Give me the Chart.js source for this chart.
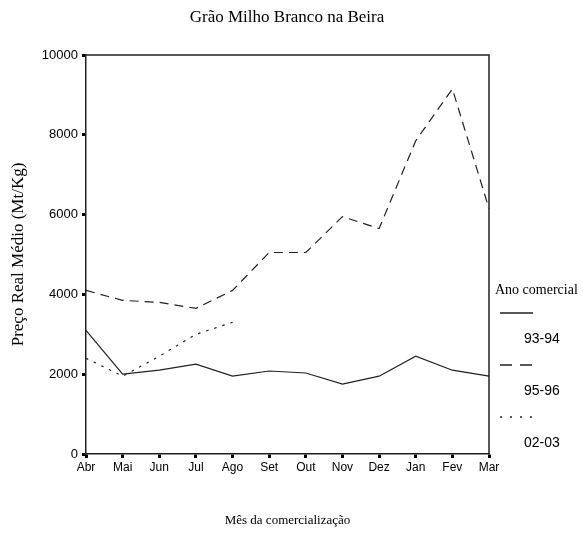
<!DOCTYPE html>
<html lang="pt">
<head>
<meta charset="UTF-8">
<title>Grão Milho Branco na Beira</title>
<style>
  html, body { margin: 0; padding: 0; background: #fff; }
  #wrap { width: 583px; height: 533px; }
</style>
</head>
<body>
<div id="wrap"><canvas id="myChart" width="583" height="533"></canvas></div>
<script src="https://cdn.jsdelivr.net/npm/chart.js@4.4.0/dist/chart.umd.min.js"></script>
<script>
// months of the marketing year
const months = ["Abr", "Mai", "Jun", "Jul", "Ago", "Set", "Out", "Nov", "Dez", "Jan", "Fev", "Mar"];

// average real price (Mt/Kg)
const s9394 = [3100, 2000, 2100, 2250, 1950, 2080, 2030, 1750, 1950, 2450, 2100, 1950];
const s9596 = [4100, 3850, 3800, 3650, 4100, 5050, 5050, 5950, 5650, 7850, 9150, 6150];
const s0203 = [2400, 1950, 2450, 3000, 3300, null, null, null, null, null, null, null];

const seriesNames = ["93-94", "95-96", "02-03"];
const dashes = [[], [9, 6], [2.5, 6]];
const legendDashes = [[], [12, 8], [2, 8]];

const serif = "'Liberation Serif', 'Times New Roman', serif";
const sans = "'Liberation Sans', Arial, sans-serif";

// title, frame and legend drawn on the canvas
const extras = {
    id: 'extras',
    afterDraw(chart) {
        const c = chart.ctx;
        const a = chart.chartArea;
        c.save();
        // frame top / right
        c.strokeStyle = '#222';
        c.lineWidth = 1.5;
        c.beginPath();
        c.moveTo(a.left, a.top);
        c.lineTo(a.right, a.top);
        c.lineTo(a.right, a.bottom);
        c.stroke();

        c.fillStyle = '#000';
        c.textBaseline = 'middle';
        c.textAlign = 'center';
        c.font = '17px ' + serif;
        c.fillText('Grão Milho Branco na Beira', 287, 18);

        // legend
        c.textAlign = 'left';
        c.font = '14px ' + serif;
        c.fillText('Ano comercial', 495, 290);
        c.font = '14px ' + sans;
        c.lineWidth = 1.3;
        for (let i = 0; i < seriesNames.length; i++) {
            const y = 313 + i * 52;
            c.setLineDash(legendDashes[i]);
            c.beginPath();
            c.moveTo(500, y);
            c.lineTo(533, y);
            c.stroke();
            c.setLineDash([]);
            c.fillText(seriesNames[i], 524, y + 26);
        }
        c.restore();
    }
};

const ctx = document.getElementById('myChart').getContext('2d');
const chart = new Chart(ctx, {
    type: 'line',
    data: {
        labels: months,
        datasets: [s9394, s9596, s0203].map((d, i) => ({
            label: seriesNames[i],
            data: d,
            borderColor: '#222',
            borderWidth: 1.2,
            borderDash: dashes[i],
            pointRadius: 0,
            tension: 0,
            spanGaps: false,
            fill: false
        }))
    },
    options: {
        responsive: false,
        animation: false,
        layout: { padding: { top: 55, right: 94, left: 0, bottom: 0 } },
        plugins: {
            legend: { display: false },
            title: { display: false },
            tooltip: { enabled: false }
        },
        scales: {
            x: {
                offset: false,
                afterFit: (s) => { s.height = 79; },
                grid: { drawOnChartArea: false, tickLength: 4, tickWidth: 3, tickColor: '#000' },
                border: { display: true, color: '#222', width: 1.5 },
                ticks: { color: '#000', font: { family: sans, size: 12 }, padding: 2, maxRotation: 0, autoSkip: false },
                title: { display: true, text: 'Mês da comercialização', color: '#000',
                         font: { family: serif, size: 13 }, padding: { top: 0, bottom: 5 } }
            },
            y: {
                min: 0,
                max: 10000,
                afterFit: (s) => { s.width = 86; },
                grid: { drawOnChartArea: false, tickLength: 4, tickWidth: 3, tickColor: '#000' },
                border: { display: true, color: '#222', width: 1.5 },
                ticks: { stepSize: 2000, color: '#000', font: { family: sans, size: 13 }, padding: 4,
                         callback: (v) => String(v) },
                title: { display: true, text: 'Preço Real Médio (Mt/Kg)', color: '#000',
                         font: { family: serif, size: 17 }, padding: { top: 8, bottom: 0 } }
            }
        }
    },
    plugins: [extras]
});
</script>
</body>
</html>
